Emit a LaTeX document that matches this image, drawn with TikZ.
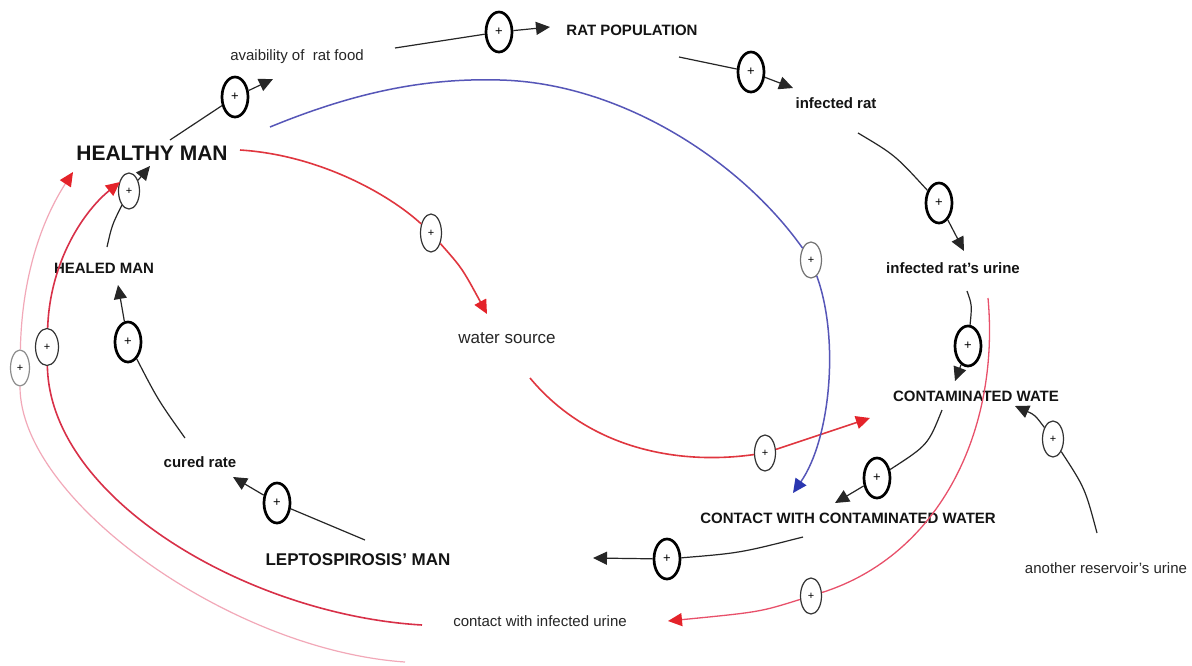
\documentclass[tikz,border=0pt]{standalone}
\usepackage{fontspec}
\setmainfont{Liberation Sans}
\usetikzlibrary{shapes.geometric,arrows.meta}
\definecolor{cred}{HTML}{E4232A}
\definecolor{redl}{HTML}{E0363F}
\definecolor{pinkred}{HTML}{E8506A}
\definecolor{crim}{HTML}{D83048}
\definecolor{lpink}{HTML}{F2A8B8}
\definecolor{bluel}{HTML}{5656B8}
\definecolor{barrow}{HTML}{2A36B0}
\begin{document}
\begin{tikzpicture}[x=1pt,y=-1pt,
  lbl/.style={font=\fontsize{15}{15}\selectfont\bfseries, inner sep=2pt, text=black!92},
  lbr/.style={font=\fontsize{15}{15}\selectfont, inner sep=2pt, text=black!85},
  pthick/.style={ellipse, draw=black, fill=white, line width=2.7pt, minimum width=26pt, minimum height=40pt, inner sep=0pt, font=\fontsize{13}{13}\selectfont},
  pthin/.style={ellipse, draw=black!80, fill=white, line width=1.2pt, minimum width=21pt, minimum height=36pt, inner sep=0pt, font=\fontsize{11}{11}\selectfont},
  conn/.style={draw=black!85, line width=1.2pt},
  arr/.style={-{Triangle[length=14pt,width=13pt]}},
  rarr/.style={-{Triangle[length=14pt,width=13pt,color=cred,fill=cred]}},
  barr/.style={-{Triangle[length=14pt,width=13pt,color=barrow,fill=barrow]}},
  redline/.style={draw=redl, line width=1.6pt},
  pinkredline/.style={draw=pinkred, line width=1.3pt},
  crimline/.style={draw=crim, line width=1.6pt},
  lpinkline/.style={draw=lpink, line width=1.2pt},
  blueline/.style={draw=bluel, line width=1.5pt}
]
\useasboundingbox (0,0) rectangle (1192,665);
\fill[white] (0,0) rectangle (1192,665);

% text nodes
\node[lbl, font=\fontsize{21}{21}\selectfont\bfseries] (hm) at (152,153) {HEALTHY MAN};
\node[lbr] (av) at (297,57) {avaibility of\ \ rat food};
\node[lbl] (rp) at (632,30) {RAT POPULATION};
\node[lbl] (ir) at (836,103) {infected rat};
\node[lbl] (iru) at (953,268) {infected rat's urine};
\node[lbl] (cw) at (976,396) {CONTAMINATED WATE};
\node[lbl] (ccw) at (848,518) {CONTACT WITH CONTAMINATED WATER};
\node[lbl, font=\fontsize{17}{17}\selectfont\bfseries] (lm) at (358,560) {LEPTOSPIROSIS' MAN};
\node[lbl] (cr) at (200,462) {cured rate};
\node[lbl] (hd) at (104,268) {HEALED MAN};
\node[lbr, font=\fontsize{17}{17}\selectfont] (ws) at (507,338) {water source};
\node[lbr] (ciu) at (540,621) {contact with infected urine};
\node[lbr] (aru) at (1106,568) {another reservoir's urine};

% polarity ellipses
\node[pthick] (p1) at (235,97) {+};
\node[pthick] (p2) at (499,32) {+};
\node[pthick] (p3) at (751,72) {+};
\node[pthick] (p4) at (939,203) {+};
\node[pthick] (p5) at (968,346) {+};
\node[pthick] (p6) at (877,478) {+};
\node[pthin] (p7) at (1053,439) {+};
\node[pthin] (p8) at (811,596) {+};
\node[pthick] (p9) at (667,559) {+};
\node[pthin] (p10) at (765,453) {+};
\node[pthick] (p11) at (277,503) {+};
\node[pthick] (p12) at (128,342) {+};
\node[pthin, minimum width=23pt, minimum height=37pt] (p13) at (47,347) {+};
\node[pthin, draw=black!45, minimum width=19pt] (p14) at (20,368) {+};
\node[pthin] (p15) at (129,191) {+};
\node[pthin, minimum height=38pt] (p16) at (431,233) {+};
\node[pthin, draw=black!55] (p17) at (811,260) {+};

% black connectors
\draw[conn] ([shift={(18,-13)}]hm.center) -- (p1);
\draw[conn,arr] (p1) -- ([shift={(-24,22)}]av.center);
\draw[conn] ([shift={(98,-9)}]av.center) -- (p2);
\draw[conn,arr] (p2) -- ([shift={(-82,-3)}]rp.center);
\draw[conn] ([shift={(47,27)}]rp.center) -- (p3);
\draw[conn,arr] (p3) -- ([shift={(-43,-15)}]ir.center);
\draw[conn] ([shift={(22,30)}]ir.center) .. controls (895,155) .. (p4);
\draw[conn,arr] (p4) -- ([shift={(11,-17)}]iru.center);
\draw[conn] ([shift={(14,23)}]iru.center) .. controls (972,305) .. (p5);
\draw[conn,arr] (p5) -- ([shift={(-21,-15)}]cw.center);
\draw[conn] ([shift={(-34,14)}]cw.center) .. controls (928,445) .. (p6);
\draw[conn,arr] (p6) -- ([shift={(-13,-15)}]ccw.center);
\draw[conn] ([shift={(-9,-35)}]aru.center) .. controls (1085,488) .. (p7);
\draw[conn,arr] (p7) .. controls (1035,415) .. ([shift={(39,10)}]cw.center);
\draw[conn] ([shift={(-45,19)}]ccw.center) .. controls (740,553) .. (p9);
\draw[conn,arr] (p9) -- ([shift={(235,-2)}]lm.center);
\draw[conn] ([shift={(7,-20)}]lm.center) -- (p11);
\draw[conn,arr] (p11) -- ([shift={(33,15)}]cr.center);
\draw[conn] ([shift={(-15,-24)}]cr.center) .. controls (158,400) .. (p12);
\draw[conn,arr] (p12) -- ([shift={(14,17)}]hd.center);
\draw[conn] ([shift={(3,-21)}]hd.center) .. controls (112,225) .. (p15);
\draw[conn,arr] (p15) -- ([shift={(-2,13)}]hm.center);

% red and coloured connectors
\draw[redline] ([shift={(88,-3)}]hm.center) .. controls (320,155) and (390,195) .. (p16);
\draw[redline,rarr] (p16) .. controls (462,268) .. ([shift={(-20,-24)}]ws.center);
\draw[redline] ([shift={(23,40)}]ws.center) .. controls (590,450) and (680,465) .. (p10);
\draw[redline,rarr] (p10) -- ([shift={(-106,22)}]cw.center);
\draw[pinkredline] ([shift={(35,30)}]iru.center) .. controls (1000,430) and (940,555) .. (p8);
\draw[pinkredline,rarr] (p8) .. controls (760,612) .. ([shift={(128,0)}]ciu.center);
\draw[crimline] ([shift={(-118,4)}]ciu.center) .. controls (250,615) and (50,500) .. (p13);
\draw[crimline,rarr] (p13) .. controls (50,260) and (85,210) .. ([shift={(-32,29)}]hm.center);
\draw[lpinkline] ([shift={(-135,41)}]ciu.center) .. controls (230,650) and (20,500) .. (p14);
\draw[lpinkline,rarr] (p14) .. controls (22,270) and (45,215) .. ([shift={(-79,19)}]hm.center);
\draw[blueline] ([shift={(118,-26)}]hm.center) .. controls (360,90) and (430,78) .. (500,80) .. controls (620,83) and (740,160) .. (p17);
\draw[blueline,barr] (p17) .. controls (840,340) and (830,440) .. ([shift={(-55,-25)}]ccw.center);
\end{tikzpicture}
\end{document}
